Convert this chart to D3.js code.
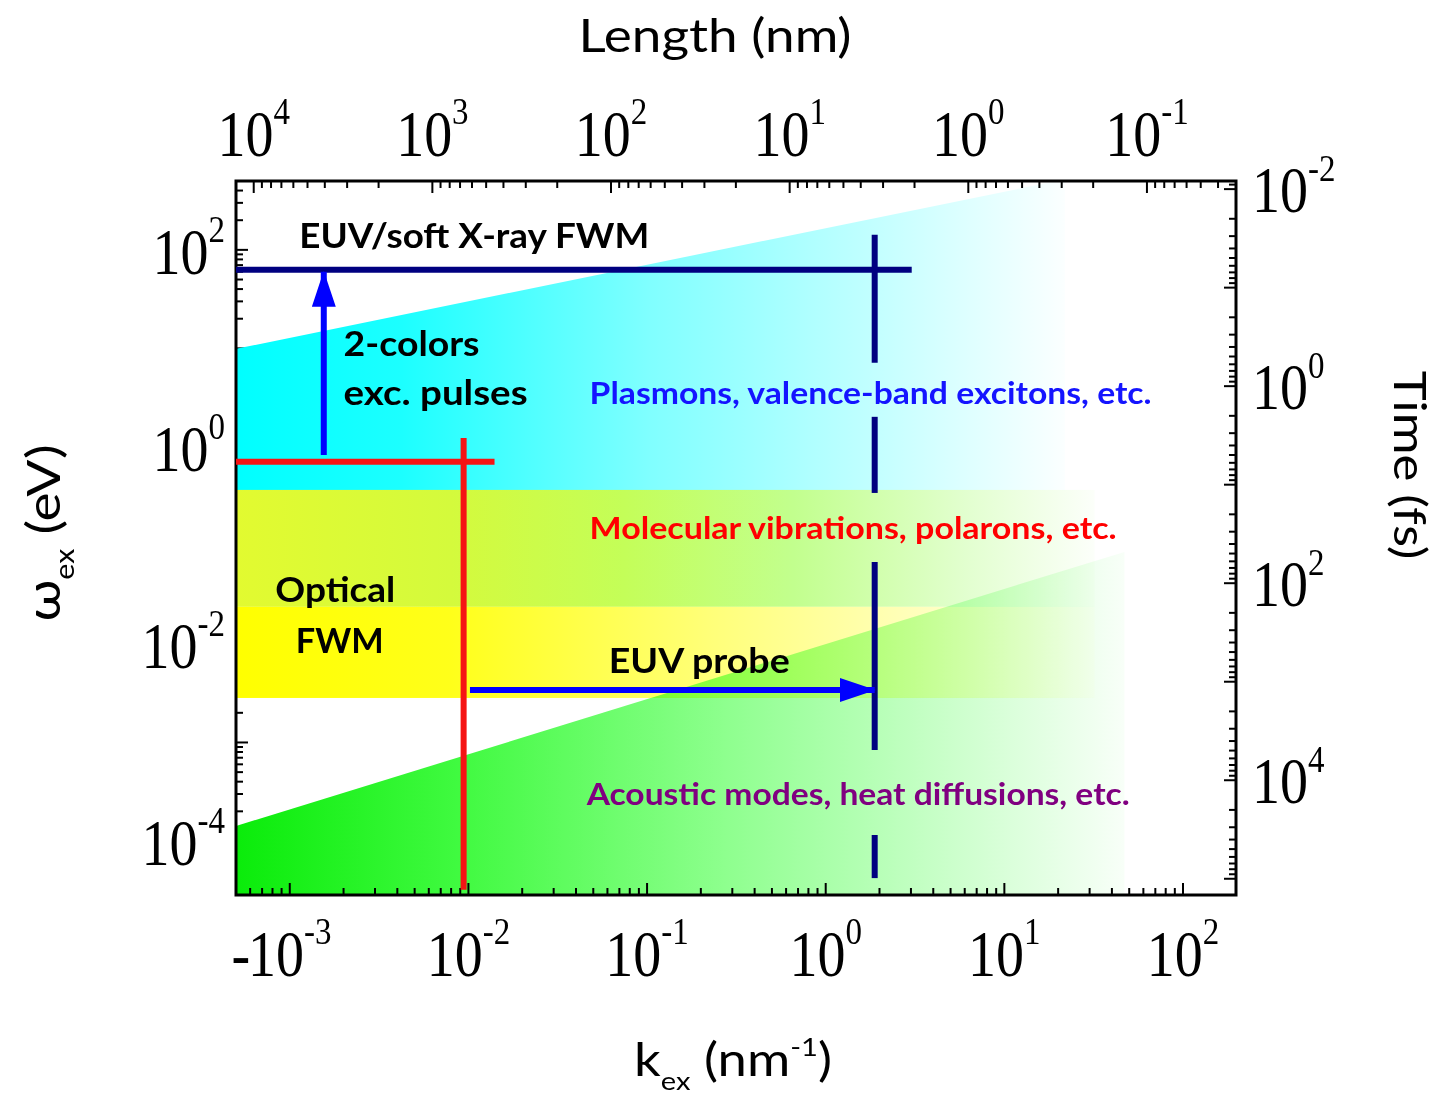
<!DOCTYPE html>
<html><head><meta charset="utf-8">
<script src="https://cdn.jsdelivr.net/npm/d3@7"></script>
<style>body{margin:0;background:#fff}</style>
</head><body><svg id="c" width="1439" height="1097"></svg>
<script>
// ---------- data ----------
const kDomain = [5e-4, 198];          // k_ex (nm^-1)
const wDomain = [2.83e-5, 500];       // omega_ex (eV)
const PLANCK_EVFS = 4.1357;           // t(fs) = h / E
const TWO_PI = 2 * Math.PI;           // L(nm) = 2*pi / k

const bottomTickVals = [1e-3, 1e-2, 1e-1, 1, 10, 100];
const bottomTickExp = ["-3", "-2", "-1", "0", "1", "2"];
const bottomTickPrefix = ["-", "", "", "", "", ""];
const topTickVals = [1e4, 1e3, 1e2, 10, 1, 0.1];
const topTickExp = ["4", "3", "2", "1", "0", "-1"];
const leftTickVals = [1e2, 1, 1e-2, 1e-4];
const leftTickExp = ["2", "0", "-2", "-4"];
const rightTickVals = [1e-2, 1, 1e2, 1e4];
const rightTickExp = ["-2", "0", "2", "4"];

// regions
const cyanEdgeK = [5e-4, 19.6], cyanEdgeW = [9.9, 500], cyanEndK = 21.8;
const bandLimitsW = [0.366, 0.0238, 0.00283], bandEndK = 32;
const greenEdgeK = [5e-4, 47], greenEdgeW = [1.42e-4, 0.086];

// lines
const navyHK = [5e-4, 3.03], navyHW = 62.7;
const navyVK = 1.88;
const navyDashesW = [[142, 7.13], [2.02, 0.341], [0.068, 8.4e-4], [1.15e-4, 4.2e-5]];
const redHK = [5e-4, 0.014], redHW = 0.705;
const redVK = 0.0094, redVW = [1.23, 3.2e-5];
const arrowUpK = 1.55e-3, arrowUpW = [0.83, 59.8];
const arrowRightW = 0.00341, arrowRightK = [0.0102, 1.88];

// annotations
const annoText = ["EUV/soft X-ray FWM", "2-colors", "exc. pulses",
  "Plasmons, valence-band excitons, etc.", "Molecular vibrations, polarons, etc.",
  "Optical", "FWM", "EUV probe", "Acoustic modes, heat diffusions, etc."];
const annoK = [1.13e-3, 2.0e-3, 2.0e-3, 0.0477, 0.0477, 8.3e-4, 1.08e-3, 0.061, 0.0459];
const annoW = [104.8, 8.4, 2.67, 2.74, 0.1164, 0.0267, 8.1e-3, 5.08e-3, 2.32e-4];

// ---------- styles / layout ----------
const annoColor = ["#000", "#000", "#000", "#1414ff", "#ff0000", "#000", "#000", "#000", "#800080"];
const annoSize = [34, 34, 34, 31, 31, 34, 34, 34, 31];
const annoLen = [350, 136, 184, 562, 527, 120, 88, 181, 543];

const M = {left: 236, top: 181}, W = 1000, H = 714;
const svg = d3.select("#c");
const defs = svg.append("defs");
const g = svg.append("g").attr("transform", `translate(${M.left},${M.top})`);

const x = d3.scaleLog().domain(kDomain).range([0, W]);
const y = d3.scaleLog().domain(wDomain).range([H, 0]);
const xL = d3.scaleLog().domain([TWO_PI / kDomain[0], TWO_PI / kDomain[1]]).range([0, W]);
const yT = d3.scaleLog().domain([PLANCK_EVFS / wDomain[0], PLANCK_EVFS / wDomain[1]]).range([H, 0]);

const isMajor = v => Math.abs(Math.log10(v) - Math.round(Math.log10(v))) < 1e-6;
const MAJ = 12, MIN = 7;

function grad(id, x1, x2, stops) {
  const lg = defs.append("linearGradient").attr("id", id)
    .attr("gradientUnits", "userSpaceOnUse").attr("x1", x1).attr("x2", x2).attr("y1", 0).attr("y2", 0);
  stops.forEach(s => lg.append("stop").attr("offset", s[0]).attr("stop-color", s[1]));
}

// left ticks (drawn under fills)
const tickG = g.append("g").attr("stroke", "#000").attr("stroke-width", 2);
y.ticks().forEach(v => {
  const yy = y(v);
  tickG.append("line").attr("x1", 0).attr("x2", isMajor(v) ? MAJ : MIN).attr("y1", yy).attr("y2", yy);
});

// ---------- fills ----------
const poly = pts => "M" + pts.map(p => `${x(p[0])},${y(p[1])}`).join("L") + "Z";

grad("gCyan", x(kDomain[0]), x(cyanEndK), [[0, "#00ffff"], [0.2, "#1cffff"], [0.5, "#80ffff"], [1, "#fbffff"]]);
g.append("path").attr("fill", "url(#gCyan)").attr("d", poly([
  [cyanEdgeK[0], cyanEdgeW[0]], [cyanEdgeK[1], cyanEdgeW[1]], [cyanEndK, wDomain[1]],
  [cyanEndK, bandLimitsW[0]], [kDomain[0], bandLimitsW[0]]]));

grad("gGreen", x(kDomain[0]), x(greenEdgeK[1]), [[0, "#0aec0a"], [0.25, "#40fa40"], [0.55, "#8eff8e"], [0.8, "#caffca"], [1, "#f8fff8"]]);
const greenD = poly([[greenEdgeK[0], greenEdgeW[0]], [greenEdgeK[1], greenEdgeW[1]],
  [greenEdgeK[1], wDomain[0]], [kDomain[0], wDomain[0]]]);
g.append("path").attr("fill", "url(#gGreen)").attr("d", greenD);

grad("gBandUp", x(kDomain[0]), x(bandEndK), [[0, "#e2fa30"], [0.25, "#d4fa3c"], [0.45, "#c4fe58"], [0.65, "#c2ff8e"], [0.85, "#e2ffcf"], [1, "#fcfffa"]]);
grad("gBandLow", x(kDomain[0]), x(bandEndK), [[0, "#ffff00"], [0.25, "#ffff1a"], [0.55, "#ffff78"], [0.8, "#ffffbe"], [1, "#fffffa"]]);
g.append("rect").attr("fill", "url(#gBandUp)")
  .attr("x", x(kDomain[0])).attr("width", x(bandEndK) - x(kDomain[0]))
  .attr("y", y(bandLimitsW[0])).attr("height", y(bandLimitsW[1]) - y(bandLimitsW[0]));
g.append("rect").attr("fill", "url(#gBandLow)")
  .attr("x", x(kDomain[0])).attr("width", x(bandEndK) - x(kDomain[0]))
  .attr("y", y(bandLimitsW[1])).attr("height", y(bandLimitsW[2]) - y(bandLimitsW[1]));

defs.append("clipPath").attr("id", "bandClip").append("rect")
  .attr("x", x(kDomain[0])).attr("width", x(bandEndK) - x(kDomain[0]))
  .attr("y", y(bandLimitsW[0])).attr("height", y(bandLimitsW[2]) - y(bandLimitsW[0]));
g.append("path").attr("fill", "url(#gGreen)").attr("d", greenD)
  .attr("clip-path", "url(#bandClip)").style("mix-blend-mode", "multiply");

// ---------- other ticks ----------
const tick2 = g.append("g").attr("stroke", "#000").attr("stroke-width", 2);
x.ticks().forEach(v => {
  const xx = x(v);
  tick2.append("line").attr("x1", xx).attr("x2", xx).attr("y1", H).attr("y2", H - (isMajor(v) ? MAJ : MIN));
});
xL.ticks().forEach(v => {
  const xx = xL(v);
  tick2.append("line").attr("x1", xx).attr("x2", xx).attr("y1", 0).attr("y2", isMajor(v) ? MAJ : MIN);
});
yT.ticks().forEach(v => {
  const yy = yT(v);
  tick2.append("line").attr("x1", W).attr("x2", W - (isMajor(v) ? MAJ : MIN)).attr("y1", yy).attr("y2", yy);
});

// frame
g.append("rect").attr("width", W).attr("height", H).attr("fill", "none").attr("stroke", "#000").attr("stroke-width", 3);

// ---------- lines ----------
defs.append("marker").attr("id", "ahBlue").attr("markerUnits", "userSpaceOnUse")
  .attr("markerWidth", 36).attr("markerHeight", 24).attr("refX", 35).attr("refY", 12)
  .attr("orient", "auto").append("path").attr("d", "M0,0L36,12L0,24Z").attr("fill", "#0000ff");

const lineG = g.append("g").attr("fill", "none").attr("stroke-width", 6);
lineG.append("line").attr("stroke", "#000080")
  .attr("x1", x(navyHK[0])).attr("x2", x(navyHK[1])).attr("y1", y(navyHW)).attr("y2", y(navyHW));
navyDashesW.forEach(d => lineG.append("line").attr("stroke", "#000080")
  .attr("x1", x(navyVK)).attr("x2", x(navyVK)).attr("y1", y(d[0])).attr("y2", y(d[1])));
lineG.append("line").attr("stroke", "#f51414")
  .attr("x1", x(redHK[0])).attr("x2", x(redHK[1])).attr("y1", y(redHW)).attr("y2", y(redHW));
lineG.append("line").attr("stroke", "#f51414")
  .attr("x1", x(redVK)).attr("x2", x(redVK)).attr("y1", y(redVW[0])).attr("y2", y(redVW[1]));
lineG.append("line").attr("stroke", "#0000ff").attr("marker-end", "url(#ahBlue)")
  .attr("x1", x(arrowUpK)).attr("x2", x(arrowUpK)).attr("y1", y(arrowUpW[0])).attr("y2", y(arrowUpW[1]));
lineG.append("line").attr("stroke", "#0000ff").attr("marker-end", "url(#ahBlue)")
  .attr("x1", x(arrowRightK[0])).attr("x2", x(arrowRightK[1])).attr("y1", y(arrowRightW)).attr("y2", y(arrowRightW));

// ---------- annotations ----------
annoText.forEach((t, i) => {
  g.append("text").attr("x", x(annoK[i])).attr("y", y(annoW[i]))
    .attr("font-family", "Lato, 'Open Sans', sans-serif").attr("font-weight", 700)
    .attr("font-size", annoSize[i]).attr("fill", annoColor[i])
    .attr("textLength", annoLen[i]).attr("lengthAdjust", "spacingAndGlyphs").text(t);
});

// ---------- tick labels ----------
function powLabel(px, py, exp, anchor, prefix) {
  const grp = svg.append("g").attr("transform", `translate(${px},${py}) scale(1,1.17)`);
  const t = grp.append("text").attr("text-anchor", anchor)
    .attr("font-family", "'Liberation Serif', 'Times New Roman', serif").attr("font-size", 56).attr("fill", "#000");
  t.append("tspan").text("10");
  t.append("tspan").attr("font-size", 33).attr("dy", -27).text(exp);
  if (prefix) {
    const bb = t.node().getBBox();
    grp.append("text").attr("x", bb.x + 2).attr("text-anchor", "end")
      .attr("font-family", "'Liberation Serif', 'Times New Roman', serif").attr("font-size", 56).text(prefix);
  }
}
bottomTickVals.forEach((v, i) => powLabel(M.left + x(v), 976, bottomTickExp[i], "middle", bottomTickPrefix[i]));
topTickVals.forEach((v, i) => powLabel(M.left + xL(v), 156, topTickExp[i], "middle", ""));
leftTickVals.forEach((v, i) => powLabel(225, M.top + y(v) + 24, leftTickExp[i], "end", ""));
rightTickVals.forEach((v, i) => powLabel(1252, M.top + yT(v) + 23, rightTickExp[i], "start", ""));

// ---------- axis titles ----------
const tf = "Lato, 'Open Sans', sans-serif";
svg.append("text").attr("transform", "translate(715,52) scale(1.13,1)").attr("text-anchor", "middle")
  .attr("font-family", tf).attr("font-size", 47).text("Length (nm)");

const kt = svg.append("text").attr("transform", "translate(733,1076) scale(1.12,1)").attr("text-anchor", "middle")
  .attr("font-family", tf).attr("font-size", 47);
kt.append("tspan").text("k");
kt.append("tspan").attr("font-size", 26).attr("dy", 14).text("ex");
kt.append("tspan").attr("dy", -14).text(" (nm");
kt.append("tspan").attr("font-size", 26).attr("dy", -20).text("-1");
kt.append("tspan").attr("dy", 20).text(")");

const wt = svg.append("text").attr("transform", "translate(60,533) rotate(-90) scale(1.17,1)").attr("text-anchor", "middle")
  .attr("font-family", tf).attr("font-size", 47);
wt.append("tspan").text("ω");
wt.append("tspan").attr("font-size", 26).attr("dy", 14).text("ex");
wt.append("tspan").attr("dy", -14).text(" (eV)");

svg.append("text").attr("transform", "translate(1394,465) rotate(90) scale(1.13,1)").attr("text-anchor", "middle")
  .attr("font-family", tf).attr("font-size", 45).text("Time (fs)");
</script>
</body></html>
